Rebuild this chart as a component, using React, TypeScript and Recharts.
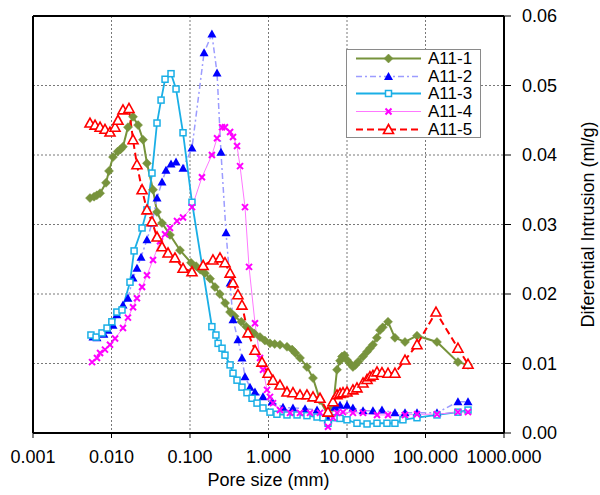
import React from 'react';
import {
  CartesianGrid,
  Legend,
  Line,
  LineChart,
  ReferenceLine,
  XAxis,
  YAxis,
} from 'recharts';

const xTicks = [0.001, 0.01, 0.1, 1, 10, 100, 1000];
const yTicks = [0, 0.01, 0.02, 0.03, 0.04, 0.05, 0.06];

// pore size (mm) and differential intrusion (ml/g)
const a1Size = [
  0.00532, 0.006, 0.0065, 0.00715, 0.00851, 0.00929, 0.01045, 0.012, 0.013, 0.014, 0.0162,
  0.0188, 0.0218, 0.0252, 0.0283, 0.0338, 0.038, 0.044, 0.0556, 0.0746, 0.103, 0.12, 0.135,
  0.155, 0.18, 0.208, 0.24, 0.28, 0.324, 0.37, 0.45, 0.52, 0.581, 0.66, 0.78, 0.9, 1.045, 1.2,
  1.4, 1.72, 2.0, 2.2, 2.52, 3.09, 3.69, 4.53, 5.73, 6.63, 7.46, 8.15, 8.63, 9.3, 10.0, 10.9,
  11.9, 12.8, 14, 16, 18, 19.6, 21.4, 24, 26.3, 28.5, 33.3, 40.8, 54.8, 77.9, 140, 259, 348,
];
const a1Val = [
  0.0338, 0.034, 0.0342, 0.0345, 0.036, 0.0377, 0.0397, 0.0405, 0.0408, 0.0412, 0.044,
  0.0455, 0.0443, 0.0422, 0.0388, 0.035, 0.0318, 0.0302, 0.0285, 0.0263, 0.0245, 0.024, 0.0235,
  0.023, 0.0222, 0.021, 0.02, 0.0187, 0.0174, 0.0168, 0.016, 0.0153, 0.0148, 0.0143, 0.0138,
  0.0133, 0.0129, 0.0128, 0.0127, 0.0124, 0.012, 0.0115, 0.0108, 0.0095, 0.0079, 0.0047,
  0.0026, 0.0037, 0.0091, 0.0104, 0.011, 0.0112, 0.0105, 0.01, 0.0095, 0.0098, 0.0103, 0.011,
  0.0117, 0.0122, 0.0127, 0.0137, 0.0148, 0.0152, 0.016, 0.0137, 0.0131, 0.014, 0.0131,
  0.0102, 0.0098,
];

const a2Size = [
  0.00581, 0.00653, 0.008, 0.009, 0.01045, 0.0117, 0.014, 0.0162, 0.0188, 0.0211, 0.0238,
  0.0283, 0.0328, 0.038, 0.044, 0.0494, 0.0573, 0.0664, 0.0815, 0.106, 0.151, 0.19, 0.221,
  0.248, 0.288, 0.324, 0.353, 0.408, 0.459, 0.502, 0.581, 0.673, 0.851, 1.11, 1.53, 2.05, 2.92,
  4.15, 5.73, 7.03, 8.15, 10.0, 11.9, 16, 21.4, 27.9, 40.8, 54.8, 77.9, 140, 259, 348,
];
const a2Val = [
  0.0138, 0.0137, 0.0142, 0.0148, 0.0155, 0.017, 0.0184, 0.0194, 0.0223, 0.0237, 0.0253,
  0.0278, 0.0302, 0.0338, 0.0361, 0.0378, 0.0387, 0.039, 0.0381, 0.041, 0.0547, 0.0574, 0.0518,
  0.0404, 0.0288, 0.0216, 0.0163, 0.0134, 0.0108, 0.0081, 0.0066, 0.0059, 0.0052, 0.0045,
  0.0037, 0.0036, 0.0035, 0.0033, 0.0019, 0.0037, 0.004, 0.004, 0.0036, 0.0032, 0.0032,
  0.0033, 0.0029, 0.0029, 0.0029, 0.0029, 0.0045, 0.0045,
];

const a3Size = [
  0.00547, 0.00636, 0.00757, 0.00877, 0.0101, 0.0117, 0.0136, 0.0172, 0.0194, 0.0245, 0.0283,
  0.0328, 0.038, 0.0428, 0.0481, 0.0573, 0.0664, 0.0815, 0.106, 0.19, 0.214, 0.228, 0.256,
  0.279, 0.324, 0.353, 0.397, 0.459, 0.532, 0.617, 0.714, 0.851, 1.045, 1.28, 1.72, 2.31, 3.09,
  4.15, 4.94, 5.73, 7.03, 8.15, 10.0, 13.4, 18.0, 24.1, 32.3, 40.8, 51.6, 77.9, 140, 259, 348,
];
const a3Val = [
  0.0141, 0.0138, 0.0144, 0.0151, 0.016, 0.0174, 0.0177, 0.0217, 0.0262, 0.0295, 0.0321,
  0.0374, 0.0446, 0.0479, 0.0509, 0.0517, 0.0495, 0.0432, 0.0332, 0.0153, 0.0141, 0.0129,
  0.0122, 0.0112, 0.0098, 0.0086, 0.0076, 0.0066, 0.0058, 0.005, 0.0043, 0.0036, 0.003,
  0.0027, 0.0026, 0.0026, 0.0025, 0.0023, 0.0022, 0.0014, 0.0022, 0.0021, 0.0019, 0.0014,
  0.0013, 0.0014, 0.0014, 0.0014, 0.0019, 0.0022, 0.0026, 0.003, 0.0033,
];

const a4Size = [
  0.00565, 0.00653, 0.00715, 0.00826, 0.00957, 0.0111, 0.014, 0.0162, 0.0188, 0.0211, 0.0245,
  0.0283, 0.0338, 0.0415, 0.0481, 0.0556, 0.0683, 0.0815, 0.106, 0.142, 0.19, 0.221, 0.256,
  0.279, 0.324, 0.353, 0.397, 0.434, 0.502, 0.565, 0.673, 0.78, 0.851, 0.957, 1.045, 1.14, 1.4,
  1.88, 2.52, 3.38, 4.53, 5.73, 6.63, 7.46, 8.89, 11.9, 16, 24.1, 33.3, 54.8, 77.9, 140, 259,
  348,
];
const a4Val = [
  0.0102, 0.0108, 0.0115, 0.012, 0.0127, 0.0136, 0.0151, 0.0166, 0.0181, 0.0194, 0.021,
  0.0227, 0.0249, 0.0276, 0.0286, 0.0295, 0.0305, 0.031, 0.0325, 0.0368, 0.04, 0.0424, 0.044,
  0.044, 0.0433, 0.0426, 0.0413, 0.0384, 0.0325, 0.0239, 0.0158, 0.0108, 0.0091, 0.0062,
  0.0052, 0.0043, 0.0033, 0.0029, 0.0029, 0.0029, 0.0029, 0.0009, 0.0022, 0.0029, 0.003,
  0.0029, 0.0029, 0.0026, 0.0026, 0.0026, 0.0027, 0.0027, 0.003, 0.003,
];

const a5Size = [
  0.00532, 0.00617, 0.00715, 0.00826, 0.00957, 0.0111, 0.0121, 0.014, 0.0167, 0.0188, 0.0211,
  0.0245, 0.0283, 0.0328, 0.038, 0.044, 0.0525, 0.0644, 0.0815, 0.106, 0.147, 0.196, 0.241,
  0.279, 0.324, 0.353, 0.408, 0.459, 0.548, 0.673, 0.826, 0.986, 1.14, 1.4, 1.72, 2.05, 2.52,
  3.09, 3.69, 4.53, 5.73, 6.63, 7.46, 8.15, 8.89, 10.0, 11.9, 13.4, 16, 18.0, 19.6, 21.4, 24.1,
  27.9, 33.3, 40.8, 54.8, 77.9, 136, 259, 348,
];
const a5Val = [
  0.0446, 0.0443, 0.044, 0.0437, 0.0433, 0.044, 0.045, 0.0465, 0.0467, 0.0422, 0.0386, 0.035,
  0.0321, 0.0304, 0.0282, 0.0268, 0.0259, 0.0252, 0.0237, 0.0232, 0.0241, 0.0249, 0.0252,
  0.0245, 0.023, 0.0216, 0.0199, 0.0184, 0.0144, 0.0119, 0.0102, 0.0086, 0.0076, 0.0069,
  0.0059, 0.0058, 0.0055, 0.0055, 0.0052, 0.005, 0.003, 0.0045, 0.0055, 0.0057, 0.0058,
  0.0059, 0.0062, 0.0065, 0.0072, 0.0077, 0.0081, 0.0083, 0.0088, 0.0087, 0.0086, 0.0086,
  0.0105, 0.0127, 0.0174, 0.0122, 0.0099,
];

const zip = (xs: number[], ys: number[]) => xs.map((x, i) => ({ x, y: ys[i] }));

const series = [
  { name: 'A11-1', data: zip(a1Size, a1Val), line: '#77933C', mark: '#77933C', shape: 'diamond', width: 2, dash: undefined },
  { name: 'A11-2', data: zip(a2Size, a2Val), line: '#9C9CFF', mark: '#0000FF', shape: 'triangle', width: 1.5, dash: '6 3 2 3' },
  { name: 'A11-3', data: zip(a3Size, a3Val), line: '#1AAFE6', mark: '#1AAFE6', shape: 'square', width: 1.8, dash: undefined },
  { name: 'A11-4', data: zip(a4Size, a4Val), line: '#FF77FF', mark: '#FF00FF', shape: 'cross', width: 1, dash: undefined },
  { name: 'A11-5', data: zip(a5Size, a5Val), line: '#FF0000', mark: '#FF0000', shape: 'open-triangle', width: 2, dash: '7 4' },
];

const font = '"Liberation Sans", Arial, sans-serif';

function Marker({ shape, color, cx, cy }: any) {
  if (cx == null || cy == null) return null;
  switch (shape) {
    case 'diamond':
      return <path d={`M${cx},${cy - 4.5}L${cx + 4.5},${cy}L${cx},${cy + 4.5}L${cx - 4.5},${cy}Z`} fill={color} stroke={color} strokeWidth={0.5} />;
    case 'triangle':
      return <path d={`M${cx},${cy - 4.5}L${cx + 4.5},${cy + 3.5}L${cx - 4.5},${cy + 3.5}Z`} fill={color} />;
    case 'square':
      return <rect x={cx - 3} y={cy - 3} width={6} height={6} fill='#fff' stroke={color} strokeWidth={1.5} />;
    case 'cross':
      return (
        <path d={`M${cx - 3},${cy - 3}L${cx + 3},${cy + 3}M${cx + 3},${cy - 3}L${cx - 3},${cy + 3}`} stroke={color} strokeWidth={2} />
      );
    default:
      return <path d={`M${cx},${cy - 5}L${cx + 5},${cy + 4}L${cx - 5},${cy + 4}Z`} fill='#fff' stroke={color} strokeWidth={1.6} />;
  }
}

function LegendBox() {
  return (
    <div
      style={{
        width: 133,
        height: 87,
        border: '1px solid #8a8a8a',
        background: '#fff',
        fontFamily: font,
        fontSize: 17,
        color: '#000',
      }}
    >
      {series.map((s) => (
        <div key={s.name} style={{ display: 'flex', alignItems: 'center', height: 17.6 }}>
          <svg width={78} height={17} style={{ flex: 'none' }}>
            <line x1={9} y1={8.5} x2={74} y2={8.5} stroke={s.line} strokeWidth={s.width} strokeDasharray={s.dash} />
            <Marker shape={s.shape} color={s.mark} cx={41.5} cy={8.5} />
          </svg>
          <span style={{ marginLeft: 3, lineHeight: '17px' }}>{s.name}</span>
        </div>
      ))}
    </div>
  );
}

const yLabel = ({ viewBox }: any) => {
  const cx = viewBox.x + viewBox.width - 6;
  const cy = viewBox.y + viewBox.height / 2;
  return (
    <text x={cx} y={cy} transform={`rotate(-90 ${cx} ${cy})`} textAnchor='middle' dominantBaseline='central' fontFamily={font} fontSize={18} fill='#000'>
      Diferential Intrusion (ml/g)
    </text>
  );
};

const xLabel = ({ viewBox }: any) => {
  const cx = viewBox.x + viewBox.width / 2;
  const cy = viewBox.y + viewBox.height - 9;
  return (
    <text x={cx} y={cy} textAnchor='middle' dominantBaseline='central' fontFamily={font} fontSize={18} fill='#000'>
      Pore size (mm)
    </text>
  );
};

export default function App() {
  return (
    <div style={{ position: 'absolute', left: 0, top: 0, background: '#fff' }}>
      <LineChart width={600} height={495} margin={{ top: 16, right: 6, left: 33, bottom: 6 }}>
        <CartesianGrid stroke='#555' strokeDasharray='2 2' strokeWidth={0.8} />
        <XAxis
          dataKey='x'
          type='number'
          scale='log'
          domain={[0.001, 1000]}
          ticks={xTicks}
          allowDataOverflow
          tickFormatter={(v: number) => v.toFixed(3)}
          tick={{ fill: '#000', fontSize: 18, fontFamily: font }}
          tickSize={5}
          tickMargin={12}
          axisLine={{ stroke: '#000', strokeWidth: 2 }}
          tickLine={{ stroke: '#000' }}
          height={56}
          interval={0}
          label={{ content: xLabel }}
        />
        <YAxis
          orientation='right'
          type='number'
          domain={[0, 0.06]}
          ticks={yTicks}
          tickFormatter={(v: number) => v.toFixed(2)}
          tick={{ fill: '#000', fontSize: 18, fontFamily: font }}
          tickSize={7}
          tickMargin={11}
          axisLine={{ stroke: '#000', strokeWidth: 2 }}
          tickLine={{ stroke: '#000' }}
          width={90}
          interval={0}
          label={{ content: yLabel }}
        />
        <ReferenceLine x={0.001} stroke='#000' strokeWidth={2} />
        <ReferenceLine y={0.06} stroke='#000' strokeWidth={2} />
        {series.map((s) => (
          <Line
            key={s.name}
            data={s.data}
            dataKey='y'
            name={s.name}
            type='linear'
            stroke={s.line}
            strokeWidth={s.width}
            strokeDasharray={s.dash}
            isAnimationActive={false}
            activeDot={false}
            dot={(p: any) => <Marker key={`${s.name}-${p.index}`} shape={s.shape} color={s.mark} cx={p.cx} cy={p.cy} />}
          />
        ))}
        <Legend
          layout='horizontal'
          align='center'
          verticalAlign='middle'
          content={() => <LegendBox />}
          wrapperStyle={{ left: 346, top: 49, width: 135, height: 89 }}
        />
      </LineChart>
    </div>
  );
}
